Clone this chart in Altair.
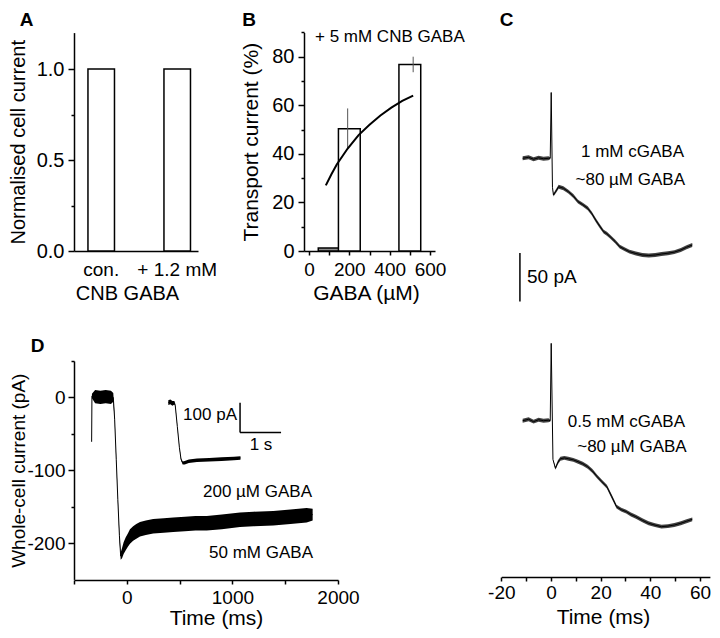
import altair as alt
import pandas as pd

FONT = "Liberation Sans"
W, H = 704, 622


def px(X):
    return X - 8


def py(Y):
    return Y - 8


# ---------------- data ----------------
# Panel A
a_cats = ["con.", "+ 1.2 mM"]
a_vals = [1.0, 1.0]

# Panel B
b_conc = [100, 200, 500]
b_vals = [1.2, 50.3, 76.8]
b_err = [0.0, 8.4, 3.2]
b_fit_x = [100, 125, 150, 200, 250, 300, 350, 400, 450, 500]
b_fit_y = [27.0, 31.5, 35.6, 42.2, 47.7, 52.0, 55.8, 59.0, 61.8, 64.0]

# Panel C, trace 1 (1 mM cGABA): time (ms), current (pA), noise half-width (pA)
c1_t = [-11.4, -9, -7, -5, -3, -1, -0.3, 0.1, 0.6, 1.0, 2.0, 3.1, 5.0, 7.0, 9.0, 10.9,
        12.8, 14.8, 16.4, 18.0, 19.6, 21.2, 22.5, 23.8, 25.8, 27.7, 29.6, 31.6, 34.2,
        36.8, 39.4, 42.0, 44.5, 47.1, 49.7, 52.3, 54.6, 56.9]
c1_v = [0, 1, -1, 0.5, -0.5, 0, 0, 68, -30, -38, -34, -29.4, -31, -34.5, -39, -44.9,
        -48, -51.7, -57, -63.8, -70, -75.9, -78, -81, -86, -91.4, -94, -96.6, -98.5,
        -100, -100.5, -100, -99, -98.2, -97, -94.8, -92, -89.7]
c1_h = [2, 2, 2, 2, 2, 2, 1, 0, 0, 1.5, 2, 2, 2, 2, 2, 2,
        2, 2, 2, 2, 2, 2, 2, 2, 2, 2, 2, 2, 2,
        2, 2, 2, 2, 2, 2, 2, 2, 2]

# Panel C, trace 2 (0.5 mM cGABA)
c2_t = [-11.4, -9, -7, -5, -3, -1, -0.3, 0.1, 0.8, 1.8, 2.8, 3.8, 5.4, 7.0, 9.0, 10.9,
        12.8, 14.8, 16.7, 18.6, 20.5, 22.5, 24.5, 26.4, 28.3, 30.3, 32.2, 34.2, 36.8,
        39.3, 41.9, 44.5, 47.1, 49.7, 52.3, 54.6, 56.9]
c2_v = [0, 1.5, -1, 1, 0, 0.5, 0, 80, -40, -49.2, -43, -39.3, -38.5, -39.3, -40.5, -42.4,
        -44.5, -47.6, -52, -57.9, -63, -68.2, -78.6, -88.9, -92, -94, -97, -99.3, -103,
        -106.1, -108, -109.6, -109, -107.9, -106, -104, -102]
c2_h = [2, 2, 2, 2, 2, 2, 1, 0, 0, 1.5, 2, 2, 2, 2, 2, 2,
        2, 2, 2, 2, 2, 2, 2, 2, 2, 2, 2, 2, 2,
        2, 2, 2, 2, 2, 2, 2, 2]

# Panel D main trace: time (ms), current (pA), noise half-width (pA)
d_t = [-333, -330, -300, -250, -200, -150, -128, -115, -100, -85, -70, -58, -45, -30,
       -10, 10, 30, 60, 90, 125, 180, 250, 350, 440, 550, 650, 757, 900, 1072, 1200,
       1387, 1550, 1703, 1760]
d_v = [-61, 2, 1, 0, 1, 0, 0, -30, -85, -140, -190, -218, -214, -207, -201, -196, -191,
       -187, -184, -181, -179, -177, -176, -175, -174, -173, -173, -171, -168, -167,
       -166, -164, -162, -161]
d_h = [0, 3, 9, 9, 9, 9, 6, 2, 2, 2, 3, 5, 7, 8, 9, 9, 10, 10, 10, 10, 10, 10, 10, 10,
       10, 10, 10, 10, 10, 10, 10, 10, 10, 8]

# Panel D inset trace: time (s), current (pA), noise half-width (pA)
di_t = [0, 0.05, 0.1, 0.15, 0.17, 0.22, 0.27, 0.31, 0.35, 0.4, 0.5, 0.7, 1.0, 1.3, 1.6, 1.76]
di_v = [0, 3, -2, 0, -10, -80, -150, -190, -203, -202, -197, -194, -192, -190, -188, -186]
di_h = [8, 8, 8, 6, 2, 2, 2, 3, 5, 6, 6, 6, 6, 6, 6, 6]

# scale bars (data units)
c_bar_t = [-12.5]
c_bar_v = [-98.0, -148.0]      # 50 pA
di_bar_t = [1.75, 2.75]        # 1 s
di_bar_v = [0.0, -100.0]       # 100 pA


# ---------------- scales ----------------
def S(domain, r0, r1):
    return alt.Scale(domain=domain, range=[r0, r1], nice=False, zero=False)


A_x = alt.Scale(domain=a_cats, range=[px(74), px(198)], paddingInner=0.651,
                paddingOuter=0.1413, align=0.65)
A_y = S([0, 1.2], py(251), py(32.6))
B_x = S([0, 600], px(304), px(435))
B_y = S([0, 90], py(251), py(32.4))
C_x = S([-20, 64], px(501.3), px(709.9))
C1_y = S([-160, 80], py(313.0), py(80.9))
C2_y = S([-160, 90], py(575.4), py(333.7))
D_x = S([-500, 2000], px(74), px(338))
D_y = S([-250, 50], py(579.4), py(361.0))
DI_x = S([0, 3], px(168.3), px(291.3))
DI_y = S([-300, 50], py(491.8), py(387.85))


def ax_left(X, **kw):
    return alt.Axis(orient="left", offset=-px(X), **kw)


def ax_bottom(Y, **kw):
    return alt.Axis(orient="bottom", offset=py(Y) - H, **kw)


def minor_y(df, field, scale, X, values):
    return alt.Chart(df).mark_point(opacity=0).encode(
        y=alt.Y(field, scale=scale,
                axis=ax_left(X, values=values, labels=False, tickSize=3,
                             domain=False, title=None)))


def label(txt, X, Y, size=17, align="left", baseline="middle", weight="normal"):
    return alt.Chart(alt.Data(values=[{}])).mark_text(
        text=txt, fontSize=size, align=align, baseline=baseline,
        fontWeight=weight, font=FONT, color="black"
    ).encode(x=alt.value(px(X)), y=alt.value(py(Y)))


layers = []

# ---------------- Panel A ----------------
dfA = pd.DataFrame({"cond": a_cats, "val": a_vals})
layers.append(
    alt.Chart(dfA).mark_bar(fill="white", stroke="black", strokeWidth=1.5).encode(
        x=alt.X("cond:N", scale=A_x, sort=None,
                axis=ax_bottom(251, ticks=False, labelAngle=0, labelFontSize=19,
                               labelPadding=9, title="CNB GABA", titleFontSize=20,
                               titleX=px(127), titleY=42, titleBaseline="middle")),
        y=alt.Y("val:Q", scale=A_y,
                axis=ax_left(74, values=[0, 0.5, 1.0], format=".1f", tickSize=6,
                             labelPadding=4, labelFontSize=20,
                             title="Normalised cell current", titleFontSize=20,
                             titleX=18.5 - 74, titleBaseline="middle")),
    )
)
layers.append(minor_y(dfA, "val:Q", A_y, 74, [0.25, 0.75]))

# ---------------- Panel B ----------------
dfB = pd.DataFrame({"conc": b_conc, "val": b_vals, "err": b_err})
layers.append(
    alt.Chart(dfB).mark_bar(stroke="black", strokeWidth=1.5, size=21.8).encode(
        x=alt.X("conc:Q", scale=B_x,
                axis=ax_bottom(251, values=[0, 100, 200, 300, 400, 500, 600],
                               labelExpr="datum.value % 200 === 0 ? '' + datum.value : ''",
                               tickSize=4, labelPadding=5, labelFontSize=19,
                               labelFlush=False, labelOverlap=False,
                               title="GABA (µM)", titleFontSize=21,
                               titleX=px(366), titleY=42, titleBaseline="middle")),
        y=alt.Y("val:Q", scale=B_y,
                axis=ax_left(304, values=[0, 20, 40, 60, 80], tickSize=6,
                             labelPadding=4, labelFontSize=20,
                             title="Transport current (%)", titleFontSize=21,
                             titleX=251 - 304, titleBaseline="middle")),
        fill=alt.condition("datum.conc < 150", alt.value("#8c8c8c"), alt.value("white")),
    )
)
layers.append(minor_y(dfB, "val:Q", B_y, 304, [10, 30, 50, 70, 90]))
dfBe = dfB[dfB["err"] > 0].copy()
dfBe["lo"] = dfBe["val"] - dfBe["err"]
dfBe["hi"] = dfBe["val"] + dfBe["err"]
layers.append(
    alt.Chart(dfBe).mark_rule(color="#555555", strokeWidth=1).encode(
        x=alt.X("conc:Q", scale=B_x, axis=None),
        y=alt.Y("lo:Q", scale=B_y, axis=None),
        y2="hi:Q",
    )
)
dfBf = pd.DataFrame({"x": b_fit_x, "y": b_fit_y})
layers.append(
    alt.Chart(dfBf).mark_line(color="black", strokeWidth=2).encode(
        x=alt.X("x:Q", scale=B_x, axis=None),
        y=alt.Y("y:Q", scale=B_y, axis=None),
    )
)


# ---------------- traces helper ----------------
def trace(t, v, h, xs, ys, band_color, band_opacity, xaxis=None):
    df = pd.DataFrame({"t": t, "v": v,
                       "lo": [a - b for a, b in zip(v, h)],
                       "hi": [a + b for a, b in zip(v, h)]})
    band = alt.Chart(df).mark_area(color=band_color, opacity=band_opacity).encode(
        x=alt.X("t:Q", scale=xs, axis=None),
        y=alt.Y("lo:Q", scale=ys, axis=None),
        y2="hi:Q",
    )
    line = alt.Chart(df).mark_line(color="black", strokeWidth=1).encode(
        x=alt.X("t:Q", scale=xs, axis=xaxis),
        y=alt.Y("v:Q", scale=ys, axis=None),
    )
    return [band, line]


# ---------------- Panel C ----------------
layers += trace(c1_t, c1_v, c1_h, C_x, C1_y, "#111111", 0.8)
layers += trace(c2_t, c2_v, c2_h, C_x, C2_y, "#111111", 0.8,
                xaxis=ax_bottom(577, values=list(range(-20, 61, 10)),
                                labelExpr="datum.value % 20 === 0 ? '' + datum.value : ''",
                                tickSize=4, labelPadding=2, labelFontSize=19,
                                labelFlush=False, labelOverlap=False,
                                title="Time (ms)", titleFontSize=21,
                                titleX=px(603), titleY=40, titleBaseline="middle"))
dfCbar = pd.DataFrame({"t": c_bar_t, "v0": [c_bar_v[0]], "v1": [c_bar_v[1]]})
layers.append(
    alt.Chart(dfCbar).mark_rule(color="black", strokeWidth=1.5).encode(
        x=alt.X("t:Q", scale=C_x, axis=None),
        y=alt.Y("v0:Q", scale=C1_y, axis=None),
        y2="v1:Q",
    )
)

# ---------------- Panel D ----------------
layers += trace(d_t, d_v, d_h, D_x, D_y, "black", 1.0,
                xaxis=ax_bottom(580, values=[-500, 0, 500, 1000, 1500, 2000],
                                labelExpr="datum.value % 1000 === 0 ? '' + datum.value : ''",
                                tickSize=4, labelPadding=4, labelFontSize=19,
                                labelFlush=False, labelOverlap=False,
                                title="Time (ms)", titleFontSize=21,
                                titleX=px(216), titleY=38, titleBaseline="middle"))
dfDax = pd.DataFrame({"v": d_v})
layers.append(
    alt.Chart(dfDax).mark_point(opacity=0).encode(
        y=alt.Y("v:Q", scale=D_y,
                axis=ax_left(74, values=[-200, -100, 0], labelExpr="'' + datum.value",
                             tickSize=6, labelPadding=3, labelFontSize=19,
                             title="Whole-cell current (pA)", titleFontSize=19,
                             titleX=18.5 - 74, titleBaseline="middle")))
)
layers.append(minor_y(dfDax, "v:Q", D_y, 74, [-150, -50, 50]))

# inset
layers += trace(di_t, di_v, di_h, DI_x, DI_y, "black", 1.0)
dfIbarV = pd.DataFrame({"t": [di_bar_t[0]], "v0": [di_bar_v[0]], "v1": [di_bar_v[1]]})
layers.append(
    alt.Chart(dfIbarV).mark_rule(color="black", strokeWidth=1.5).encode(
        x=alt.X("t:Q", scale=DI_x, axis=None),
        y=alt.Y("v0:Q", scale=DI_y, axis=None),
        y2="v1:Q",
    )
)
dfIbarH = pd.DataFrame({"t0": [di_bar_t[0]], "t1": [di_bar_t[1]], "v": [di_bar_v[1]]})
layers.append(
    alt.Chart(dfIbarH).mark_rule(color="black", strokeWidth=1.5).encode(
        x=alt.X("t0:Q", scale=DI_x, axis=None),
        x2="t1:Q",
        y=alt.Y("v:Q", scale=DI_y, axis=None),
    )
)

# ---------------- text labels ----------------
layers += [
    label("A", 26.5, 26, size=19, align="center", baseline="alphabetic", weight="bold"),
    label("B", 249, 26, size=19, align="center", baseline="alphabetic", weight="bold"),
    label("C", 506.5, 26, size=19, align="center", baseline="alphabetic", weight="bold"),
    label("D", 37.5, 352, size=19, align="center", baseline="alphabetic", weight="bold"),
    label("+ 5 mM CNB GABA", 315, 37, size=17),
    label("1 mM cGABA", 684, 152, size=17, align="right"),
    label("~80 µM GABA", 685, 180, size=17, align="right"),
    label("0.5 mM cGABA", 685, 421.7, size=17, align="right"),
    label("~80 µM GABA", 686.7, 446.7, size=17, align="right"),
    label("50 pA", 527, 277, size=19),
    label("100 pA", 237, 415, size=17, align="right"),
    label("1 s", 261, 445, size=17, align="center"),
    label("200 µM GABA", 312, 491.7, size=17, align="right"),
    label("50 mM GABA", 313, 553.3, size=17, align="right"),
]

chart = (
    alt.layer(*layers)
    .resolve_scale(x="independent", y="independent")
    .resolve_axis(x="independent", y="independent")
    .properties(width=W, height=H, padding=0,
                autosize=alt.AutoSizeParams(type="none"), background="white")
    .configure_view(stroke=None)
    .configure_axis(grid=False, domainColor="black", tickColor="black",
                    labelColor="black", titleColor="black", labelFont=FONT,
                    titleFont=FONT, titleFontWeight="normal", domainWidth=1.5,
                    tickWidth=1.5)
)

chart.save("out.html", embed_options={"renderer": "svg", "actions": False})
